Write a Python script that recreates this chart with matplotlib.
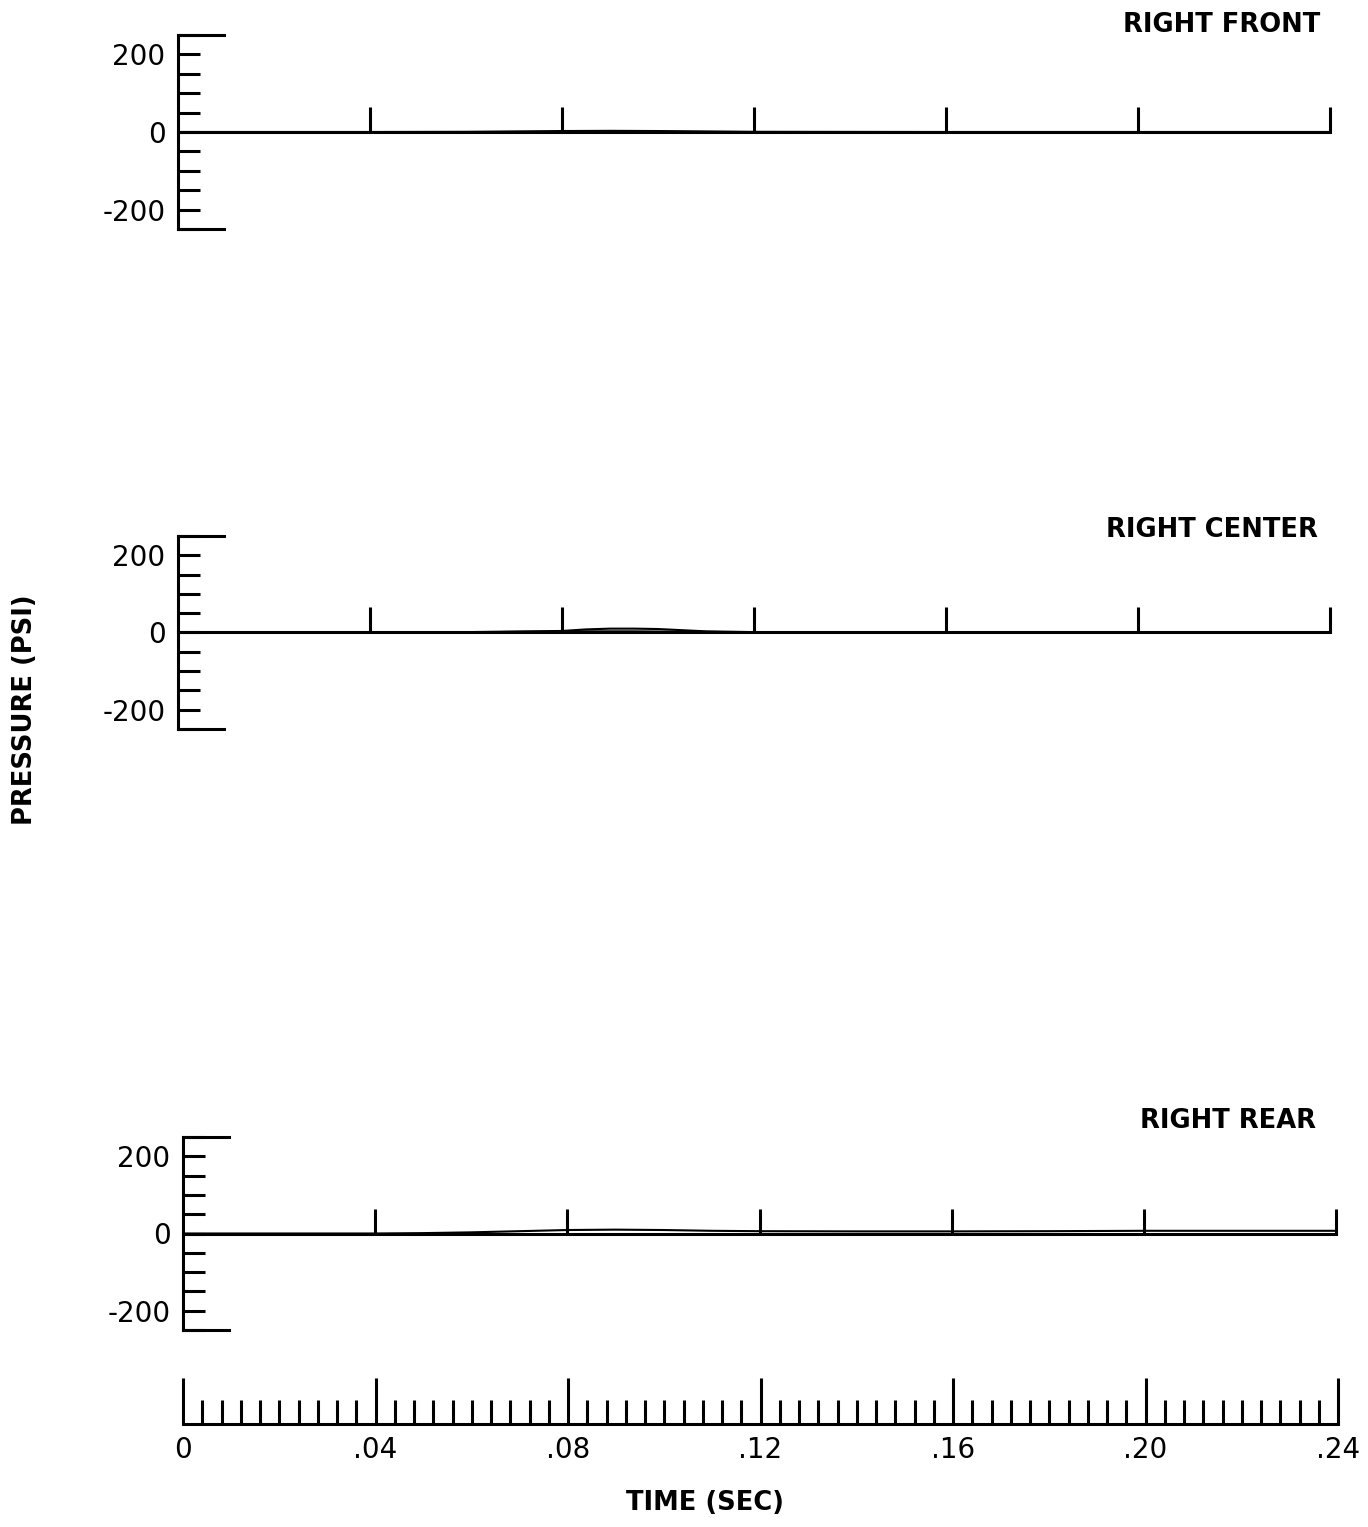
import matplotlib.pyplot as plt
import numpy as np

# time base (sec) and pressure traces (psi)
t_front = [0.0, 0.02, 0.04, 0.06, 0.07, 0.08, 0.09, 0.10, 0.11, 0.12, 0.16, 0.20, 0.24]
p_front = [0.0, 0.0, 0.0, 0.5, 1.5, 2.5, 3.0, 2.5, 1.5, 0.5, 0.0, 0.0, 0.0]

t_center = [0.0, 0.02, 0.04, 0.06, 0.07, 0.08, 0.085, 0.09, 0.095, 0.10, 0.105, 0.11, 0.12, 0.16, 0.20, 0.24]
p_center_a = [0.0, 0.0, 0.0, 1.0, 2.5, 4.0, 8.0, 10.0, 10.0, 9.0, 6.0, 3.0, 1.0, 0.0, 0.0, 0.0]
p_center_b = [0.0, 0.0, 0.0, 0.5, 1.5, 2.5, 3.0, 3.0, 3.0, 2.5, 2.0, 1.5, 0.5, 0.0, 0.0, 0.0]

t_rear = [0.0, 0.02, 0.04, 0.05, 0.06, 0.07, 0.08, 0.09, 0.10, 0.11, 0.12, 0.14, 0.16, 0.18, 0.20, 0.22, 0.24]
p_rear = [0.0, 0.0, 0.0, 1.0, 3.0, 6.0, 9.0, 10.0, 9.0, 7.0, 6.0, 5.5, 5.5, 6.0, 7.0, 7.0, 7.0]

panels = [
    ("RIGHT FRONT", [(t_front, p_front)]),
    ("RIGHT CENTER", [(t_center, p_center_a), (t_center, p_center_b)]),
    ("RIGHT REAR", [(t_rear, p_rear)]),
]

time_major = [0.0, 0.04, 0.08, 0.12, 0.16, 0.20, 0.24]
time_labels = ["0", ".04", ".08", ".12", ".16", ".20", ".24"]
time_minor = np.arange(0, 0.2401, 0.004)
psi_ticks = [-200, 0, 200]
psi_labels = ["-200", "0", "200"]
psi_minor = np.arange(-250, 251, 50)

W, H = 1368, 1527
# pixel boxes of each panel: (left, right, top, bottom)
boxes = [(178, 1330, 35, 229), (178, 1330, 536, 729), (183, 1336, 1137, 1330)]
# title anchor (right x, centre y) in pixels
title_pos = [(1320, 25), (1318, 530), (1316, 1121)]

fig = plt.figure(figsize=(W / 100, H / 100), dpi=100, facecolor="white")

lw_axis = 2.2
num_font = dict(family="DejaVu Sans", size=20)
bold_font = dict(family="DejaVu Sans", weight="bold", size=18.5)


def px_axes(left, right, top, bottom):
    return fig.add_axes([left / W, 1 - bottom / H, (right - left) / W, (bottom - top) / H])


for (title, traces), (l, r, t, b), (tx, ty) in zip(panels, boxes, title_pos):
    ax = px_axes(l, r, t, b)
    ax.set_xlim(0, 0.24)
    ax.set_ylim(-250, 250)
    for tt, pp in traces:
        ax.plot(tt, pp, color="black", lw=1.5)

    ax.spines["top"].set_visible(False)
    ax.spines["right"].set_visible(False)
    ax.spines["left"].set_linewidth(lw_axis)
    ax.spines["bottom"].set_position(("data", 0))
    ax.spines["bottom"].set_linewidth(lw_axis)

    ax.set_xticks(time_major[1:])
    ax.set_xticklabels([])
    ax.tick_params(axis="x", direction="in", length=18, width=lw_axis)

    ax.set_yticks(psi_ticks)
    ax.set_yticklabels(psi_labels, **num_font)
    ax.set_yticks(psi_minor, minor=True)
    ax.tick_params(axis="y", which="both", direction="in", length=16, width=lw_axis, pad=9)

    # short frame caps at the top and bottom of the pressure scale
    cap = 46 / (r - l)
    ax.axhline(250, xmin=0, xmax=cap, color="black", lw=lw_axis, clip_on=False)
    ax.axhline(-250, xmin=0, xmax=cap, color="black", lw=lw_axis, clip_on=False)

    fig.text(tx / W, 1 - ty / H, title, ha="right", va="center", **bold_font)

# separate time scale
tax = px_axes(183, 1338, 1380, 1424)
tax.set_xlim(0, 0.24)
tax.set_ylim(0, 1)
for s in ("top", "right", "left"):
    tax.spines[s].set_visible(False)
tax.spines["bottom"].set_linewidth(lw_axis)
tax.set_yticks([])
tax.set_xticks(time_major)
tax.set_xticklabels(time_labels, **num_font)
tax.set_xticks(time_minor, minor=True)
tax.tick_params(axis="x", which="major", direction="in", length=33, width=lw_axis, pad=9)
tax.tick_params(axis="x", which="minor", direction="in", length=17, width=lw_axis)

fig.text(705 / W, 1 - 1503 / H, "TIME (SEC)", ha="center", va="center", **bold_font)
fig.text(25 / W, 1 - 710 / H, "PRESSURE (PSI)", ha="center", va="center", rotation=90, **bold_font)

fig.savefig("out.png", dpi=100, facecolor="white")
